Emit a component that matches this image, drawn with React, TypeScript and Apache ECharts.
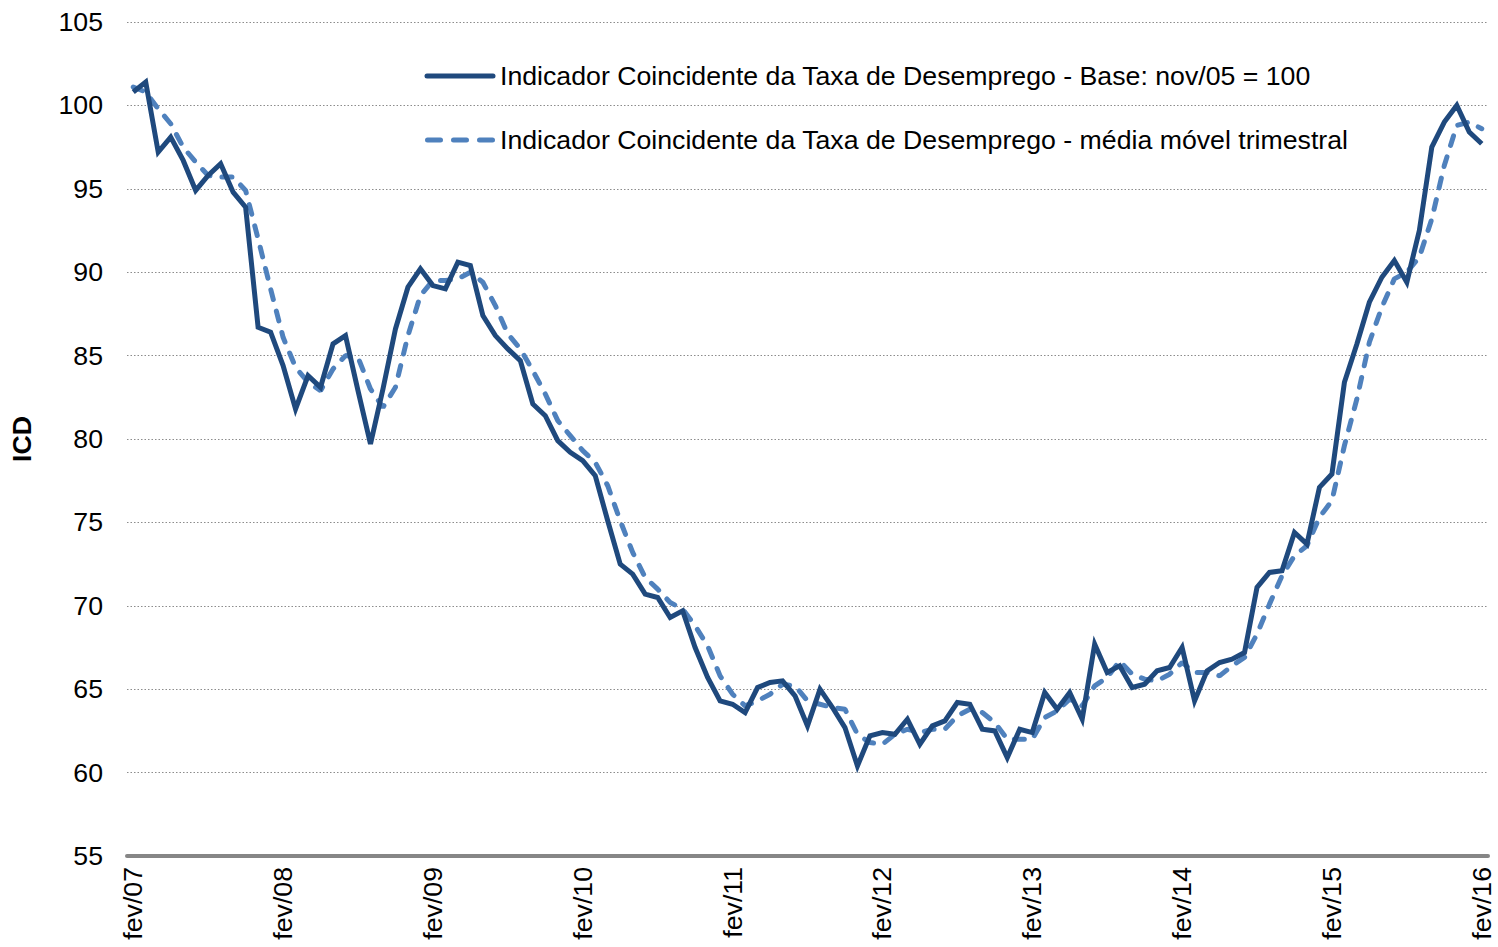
import React, { useEffect, useRef } from "react";
import * as echarts from "echarts";

const monthNames = ["jan", "fev", "mar", "abr", "mai", "jun", "jul", "ago", "set", "out", "nov", "dez"];
const startYear = 2007;
const startMonth = 1; // fev

const icd = [
  100.8, 101.4, 97.2, 98.1, 96.7, 94.9, 95.8, 96.5, 94.8, 93.9,
  86.7, 86.4, 84.4, 81.8, 83.8, 83.1, 85.7, 86.2, 82.9, 79.7,
  83.0, 86.6, 89.1, 90.2, 89.2, 89.0, 90.6, 90.4, 87.4, 86.2,
  85.4, 84.7, 82.1, 81.4, 79.9, 79.2, 78.7, 77.8, 75.1, 72.5,
  71.9, 70.7, 70.5, 69.3, 69.7, 67.5, 65.7, 64.3, 64.1, 63.6,
  65.1, 65.4, 65.5, 64.6, 62.8, 65.0, 63.9, 62.7, 60.4, 62.2,
  62.4, 62.3, 63.2, 61.7, 62.8, 63.1, 64.2, 64.1, 62.6, 62.5,
  60.9, 62.6, 62.4, 64.8, 63.8, 64.8, 63.2, 67.7, 66.0, 66.4,
  65.1, 65.3, 66.1, 66.3, 67.5, 64.3, 66.1, 66.6, 66.8, 67.2,
  71.1, 72.0, 72.1, 74.4, 73.7, 77.1, 77.9, 83.4, 85.7, 88.2,
  89.7, 90.7, 89.4, 92.5, 97.5, 99.0, 100.0, 98.4, 97.7,
];

const icdMM3 = [
  101.1, 100.8, 99.8, 98.9, 97.5, 96.6, 95.8, 95.7, 95.7, 94.9,
  92.0, 89.0, 86.1, 84.3, 83.4, 82.9, 84.2, 85.0, 84.9, 83.0,
  81.9, 83.1, 86.2, 88.6, 89.5, 89.5, 89.6, 90.0, 89.4, 88.0,
  86.3, 85.4, 84.1, 82.7, 81.1, 80.2, 79.3, 78.6, 77.2, 75.1,
  73.2, 71.7, 71.0, 70.2, 69.8, 68.8, 67.6, 65.8, 64.7, 64.0,
  64.3, 64.7, 65.3, 65.2, 64.3, 64.1, 63.9, 63.8, 62.3, 61.8,
  61.7, 62.3, 62.6, 62.4, 62.6, 62.6, 63.4, 63.8, 63.6, 63.0,
  62.0, 62.0, 62.0, 63.3, 63.7, 64.4, 64.0, 65.2, 65.7, 66.7,
  65.9, 65.6, 65.5, 65.9, 66.6, 66.0, 66.0, 65.8, 66.4, 66.9,
  68.3, 70.1, 71.8, 73.0, 73.6, 75.3, 76.3, 79.6, 82.4, 85.8,
  87.9, 89.6, 90.0, 90.9, 93.2, 96.4, 98.8, 99.0, 98.6,
];

const categories: string[] = icd.map((_, i) => {
  const m = startMonth + i;
  const year = startYear + Math.floor(m / 12);
  return monthNames[m % 12] + "/" + String(year % 100).padStart(2, "0");
});

const seriesNames = [
  "Indicador Coincidente da Taxa de Desemprego - Base: nov/05 = 100",
  "Indicador Coincidente da Taxa de Desemprego - média móvel trimestral",
];

const FONT = "'Liberation Sans', Arial, sans-serif";
const FS = 26.7;
const MAIN_COLOR = "#1F497D";
const MA_COLOR = "#4F81BD";

export default function App() {
  const ref = useRef<HTMLDivElement>(null);
  useEffect(() => {
    if (!ref.current) return;
    const chart = echarts.init(ref.current, undefined, { renderer: "svg" });
    chart.setOption({
      animation: false,
      textStyle: { fontFamily: FONT },
      grid: { left: 126, right: 10, top: 22, bottom: 91, containLabel: false },
      legend: { show: false, data: seriesNames },
      graphic: [
        {
          type: "line",
          shape: { x1: 427, y1: 76, x2: 493, y2: 76 },
          style: { stroke: MAIN_COLOR, lineWidth: 5, lineCap: "round" },
        },
        {
          type: "text",
          x: 500,
          y: 76,
          style: {
            text: seriesNames[0],
            fill: "#000",
            fontSize: FS,
            fontFamily: FONT,
            verticalAlign: "middle",
            textVerticalAlign: "middle",
          },
        },
        {
          type: "line",
          shape: { x1: 427.5, y1: 140, x2: 492.5, y2: 140 },
          style: { stroke: MA_COLOR, lineWidth: 5, lineCap: "round", lineDash: [13, 13] },
        },
        {
          type: "text",
          x: 500,
          y: 140,
          style: {
            text: seriesNames[1],
            fill: "#000",
            fontSize: FS,
            fontFamily: FONT,
            verticalAlign: "middle",
            textVerticalAlign: "middle",
          },
        },
      ],
      xAxis: {
        type: "category",
        data: categories,
        boundaryGap: true,
        axisLine: { show: true, lineStyle: { color: "#868686", width: 4 } },
        axisTick: { show: false },
        axisLabel: {
          interval: (index: number) => index % 12 === 0,
          rotate: 90,
          fontSize: FS,
          color: "#000",
          fontFamily: FONT,
          margin: 11,
        },
        splitLine: { show: false },
      },
      yAxis: {
        type: "value",
        min: 55,
        max: 105,
        interval: 5,
        name: "ICD",
        nameLocation: "middle",
        nameRotate: 90,
        nameGap: 92,
        nameTextStyle: { fontSize: FS, fontWeight: "bold", color: "#000", fontFamily: FONT },
        axisLine: { show: false },
        axisTick: { show: false },
        axisLabel: { fontSize: FS, color: "#000", margin: 24, fontFamily: FONT },
        splitLine: { show: true, lineStyle: { color: "#8c8c8c", width: 1.2, type: [1.5, 2] } },
      },
      series: [
        {
          name: seriesNames[0],
          type: "line",
          data: icd,
          symbol: "none",
          lineStyle: { color: MAIN_COLOR, width: 5, join: "miter" },
          itemStyle: { color: MAIN_COLOR },
          z: 3,
        },
        {
          name: seriesNames[1],
          type: "line",
          data: icdMM3,
          symbol: "none",
          lineStyle: { color: MA_COLOR, width: 5, type: [10, 12], cap: "round" },
          itemStyle: { color: MA_COLOR },
          z: 2,
        },
      ],
    });
    return () => chart.dispose();
  }, []);
  return <div ref={ref} style={{ width: 1498, height: 947, position: "absolute", left: 0, top: 0 }} />;
}
